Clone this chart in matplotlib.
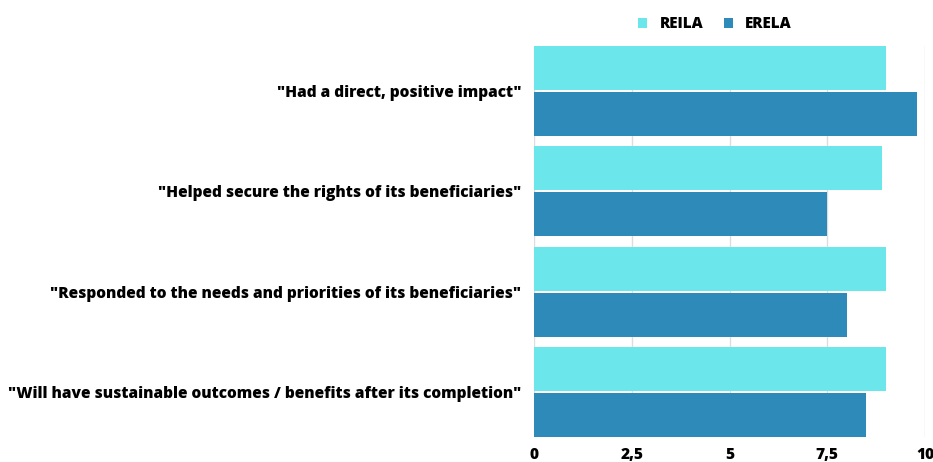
import numpy as np
import matplotlib.pyplot as plt

# Data
statements = [
    '"Had a direct, positive impact"',
    '"Helped secure the rights of its beneficiaries"',
    '"Responded to the needs and priorities of its beneficiaries"',
    '"Will have sustainable outcomes / benefits after its completion"',
]
reila = [9.0, 8.9, 9.0, 9.0]
erela = [9.8, 7.5, 8.0, 8.5]
xticks = [0, 2.5, 5, 7.5, 10]
xtick_labels = ['0', '2,5', '5', '7,5', '10']

plt.rcParams['font.family'] = ['Open Sans', 'DejaVu Sans']

fig = plt.figure(figsize=(9.33, 4.62), dpi=100)
ax = fig.add_axes([534 / 933, 1 - 437 / 462, (925 - 534) / 933, (437 - 46) / 462])

y = np.arange(len(statements))
h = 0.44
ax.barh(y - 0.23, reila, height=h, color='#6be6ea', label='REILA', zorder=3)
ax.barh(y + 0.23, erela, height=h, color='#2e8ab8', label='ERELA', zorder=3)

ax.set_xlim(0, 10)
ax.set_ylim(3.45, -0.45)
ax.set_xticks(xticks)
ax.set_xticklabels(xtick_labels, fontweight='heavy', fontsize=11.2)
ax.set_yticks(y)
ax.set_yticklabels(statements, fontweight='heavy', fontsize=11.2)
ax.tick_params(length=0, pad=9)
ax.tick_params(axis='x', pad=7)
ax.grid(axis='x', color='#dddddd', linewidth=1, zorder=0)
for s in ax.spines.values():
    s.set_visible(False)

ax.legend(loc='lower center', bbox_to_anchor=(0.463, 1.0), ncol=2, frameon=False,
          handlelength=0.6, handleheight=0.6, columnspacing=1.35, handletextpad=0.8,
          prop={'weight': 'heavy', 'size': 11})

fig.savefig('out.png', dpi=100)
